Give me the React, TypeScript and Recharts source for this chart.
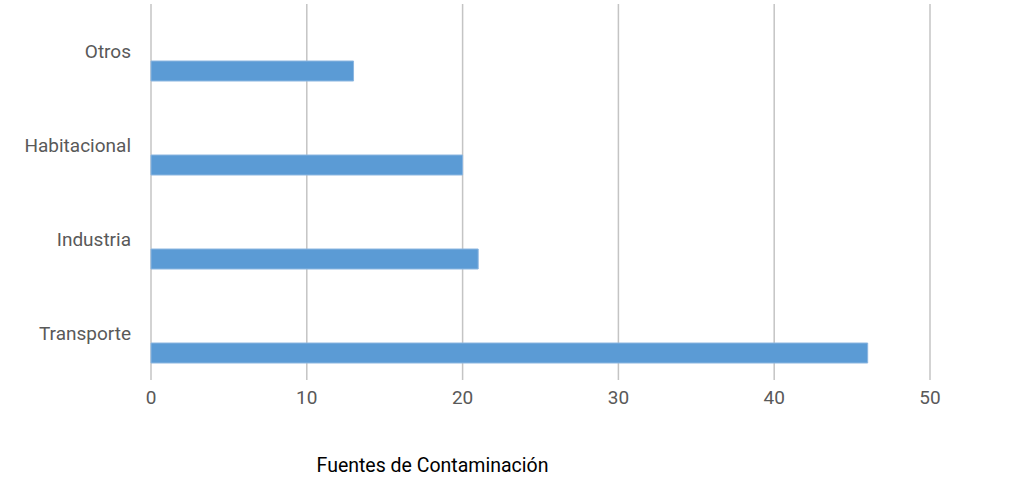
import { Bar, BarChart, CartesianGrid, Label, XAxis, YAxis } from "recharts";

// fuentes de contaminación, top to bottom as drawn
const categories = ["Otros", "Habitacional", "Industria", "Transporte"];
const values = [13, 20, 21, 46];
// Excel chart had a second, empty series which pushes the bars below the label
const emptySeries = [null, null, null, null];
const xTicks = [0, 10, 20, 30, 40, 50];

const data = categories.map((name, i) => ({
    name,
    blank: emptySeries[i],
    total: values[i],
}));

const font = "Roboto, 'Noto Sans', sans-serif";

export default function App() {
    return (
        <div style={{ position: "absolute", left: 0, top: 0, background: "#fff" }}>
            <BarChart
                width={1012}
                height={483}
                data={data}
                layout="vertical"
                margin={{ top: 4, right: 82, bottom: 0, left: 0 }}
                barSize={20}
                barGap={20}
            >
                <CartesianGrid horizontal={false} vertical stroke="#c4c4c4" strokeWidth={1.5} />
                <XAxis
                    type="number"
                    domain={[0, 50]}
                    ticks={xTicks}
                    axisLine={false}
                    tickLine={false}
                    tickSize={0}
                    tickMargin={11}
                    height={103}
                    tick={{ fill: "#595959", fontSize: 19, fontFamily: font }}
                >
                    <Label
                        value="Fuentes de Contaminación"
                        position="insideBottom"
                        offset={11}
                        dx={-108}
                        style={{ fill: "#000", fontSize: 19.5, fontFamily: font }}
                    />
                </XAxis>
                <YAxis
                    type="category"
                    dataKey="name"
                    width={151}
                    axisLine={false}
                    tickLine={false}
                    tickSize={0}
                    tickMargin={20}
                    tick={{ fill: "#595959", fontSize: 19, fontFamily: font }}
                />
                <Bar dataKey="blank" fill="transparent" isAnimationActive={false} />
                <Bar dataKey="total" fill="#5b9bd5" stroke="#8cb6e0" strokeWidth={1} isAnimationActive={false} />
            </BarChart>
        </div>
    );
}
